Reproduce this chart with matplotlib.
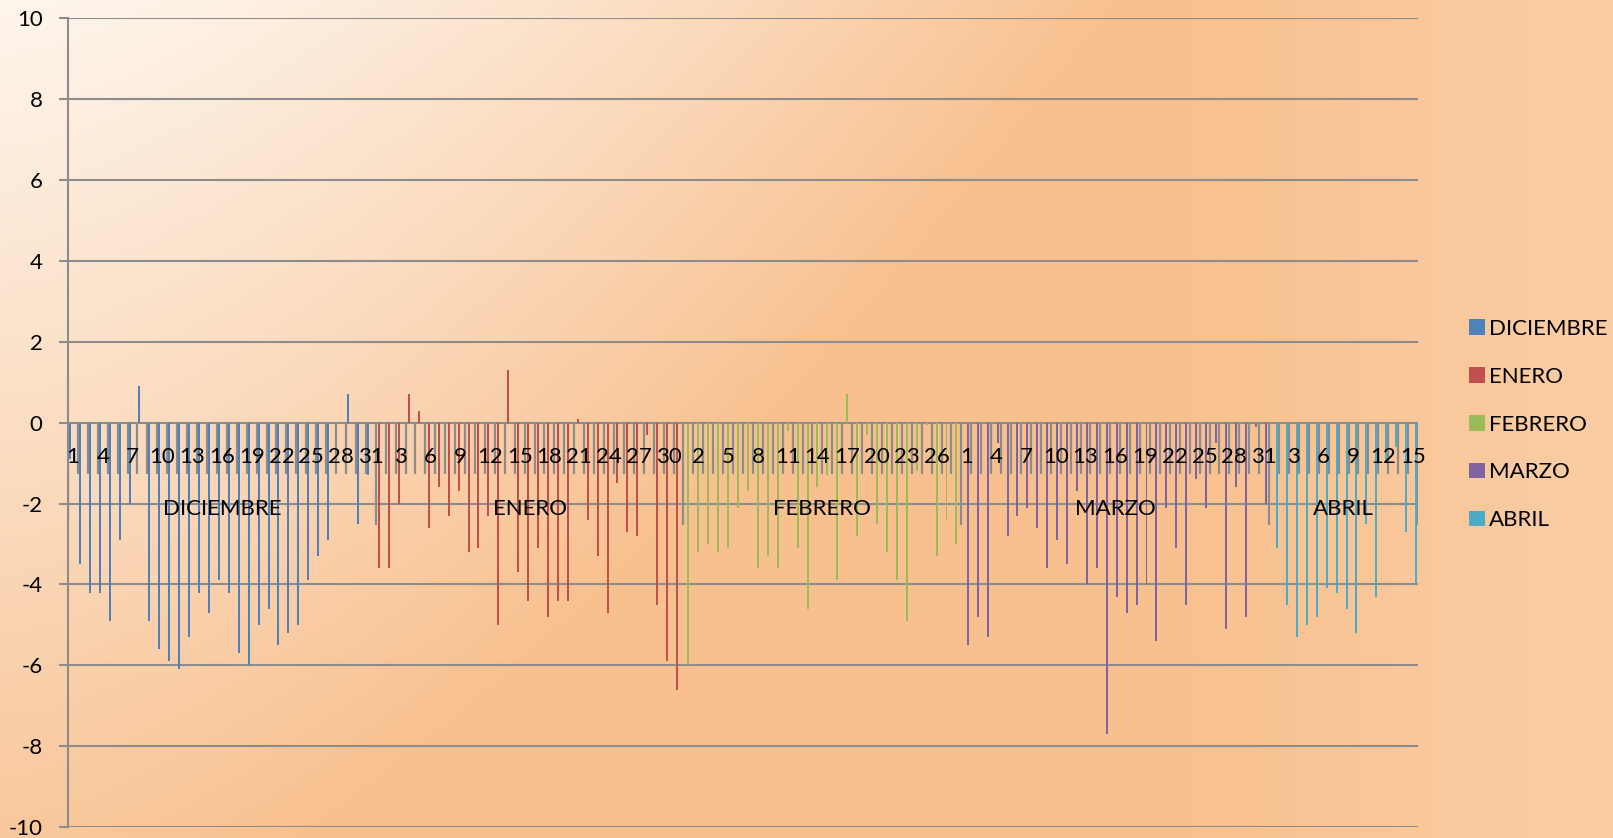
# import libraries
import numpy as np
import matplotlib
matplotlib.use('Agg')
import matplotlib.pyplot as plt

plt.rcParams['font.family'] = ['Lato', 'DejaVu Sans']
plt.rcParams['axes.unicode_minus'] = False

# data, one list per month (one value per day)
months = ['DICIEMBRE', 'ENERO', 'FEBRERO', 'MARZO', 'ABRIL']
colors = ['#4F81BD', '#C0504D', '#9BBB59', '#8064A2', '#4BACC6']

dic = [-0.9, -3.5, -4.2, -4.2, -4.9, -2.9, -2.0, 0.9, -4.9, -5.6, -5.9, -6.1, -5.3, -4.2, -4.7, -3.9,
       -4.2, -5.7, -6.0, -5.0, -4.6, -5.5, -5.2, -5.0, -3.9, -3.3, -2.9, 0.0, 0.7, -2.5, -1.3]
ene = [-3.6, -3.6, -2.0, 0.7, 0.3, -2.6, -1.6, -2.3, -1.7, -3.2, -3.1, -2.3, -5.0, 1.3, -3.7, -4.4,
       -3.1, -4.8, -4.4, -4.4, 0.1, -2.4, -3.3, -4.7, -1.5, -2.7, -2.8, -0.3, -4.5, -5.9, -6.6]
feb = [-6.0, -3.2, -3.0, -3.2, -3.1, -2.1, -1.7, -3.6, -3.3, -3.6, -0.2, -3.1, -4.6, -1.6, -1.3, -3.9,
       0.7, -2.8, -0.3, -2.5, -3.2, -3.9, -4.9, -1.2, -0.05, -3.3, -2.4, -3.0]
mar = [-5.5, -4.8, -5.3, -0.5, -2.8, -2.3, -2.1, -2.6, -3.6, -2.9, -3.5, -1.7, -4.0, -3.6, -7.7, -4.3,
       -4.7, -4.5, -4.0, -5.4, -2.1, -3.1, -4.5, -1.4, -2.1, -0.5, -5.1, -1.6, -4.8, -0.1, -2.0]
abr = [-3.1, -4.5, -5.3, -5.0, -4.8, -4.1, -4.2, -4.6, -5.2, -2.5, -4.3, -1.0, -0.6, -2.7, -4.0]

series = [dic, ene, feb, mar, abr]

# day numbers for the category axis
days = []
for s in series:
    days += list(range(1, len(s) + 1))
n = len(days)

fig = plt.figure(figsize=(16.13, 8.38), dpi=100)

# background gradient
xx, yy = np.meshgrid(np.linspace(0, 1, 400), np.linspace(0, 1, 220))
t = np.clip((xx / 0.7) ** 1.5 + yy * 0.85, 0, 1)
light = np.array([254, 245, 236]) / 255
orange = np.array([248, 192, 142]) / 255
right = np.array([251, 210, 172]) / 255
img = light * (1 - t)[..., None] + orange * t[..., None]
w = (np.clip((xx - 0.72) / 0.28, 0, 1) * 0.75)[..., None]
img = img * (1 - w) + right * w
bg = fig.add_axes([0, 0, 1, 1], zorder=-10)
bg.imshow(img, aspect='auto', extent=[0, 1, 0, 1], origin='upper')
bg.axis('off')

ax = fig.add_axes([68 / 1613, 1 - 827 / 838, (1418 - 68) / 1613, (827 - 18.5) / 838])
ax.set_facecolor('none')

grey = '#8c8c8c'

# bars, clustered by month inside each day slot
offsets = [-0.298, -0.149, 0.0, 0.149, 0.298]
start = 0
bounds = [0]
for i in range(len(series)):
    vals = series[i]
    xs = np.arange(start, start + len(vals)) + offsets[i]
    ax.bar(xs, vals, width=0.2, color=colors[i], label=months[i], zorder=3)
    start += len(vals)
    bounds.append(start)

# category tick marks (short per day, long per month)
for k in range(n + 1):
    low = -2.54 if k in bounds else -1.27
    ax.plot([k - 0.5, k - 0.5], [0, low], color=grey, lw=1.6, zorder=2, solid_capstyle='butt')

# day labels every 3 days
for k in range(0, n, 3):
    ax.text(k, -0.84, str(days[k]), ha='center', va='center', fontsize=16, zorder=4)

# month labels
for i in range(len(months)):
    mid = (bounds[i] + bounds[i + 1] - 1) / 2
    ax.text(mid, -2.13, months[i], ha='center', va='center', fontsize=16, zorder=4)

ax.set_xlim(-0.5, n - 0.5)
ax.set_ylim(-10, 10)
ax.set_yticks(range(-10, 11, 2))
ax.set_xticks([])
ax.yaxis.grid(True, color=grey, lw=1.5)
ax.set_axisbelow(True)
ax.tick_params(axis='y', length=6.3, width=1.5, color=grey, pad=12, labelsize=16)
for side in ['top', 'right', 'bottom']:
    ax.spines[side].set_visible(False)
ax.spines['left'].set_color(grey)
ax.spines['left'].set_linewidth(1.5)

ax.legend(loc='upper left', bbox_to_anchor=(1469 / 1613, 1 - 319 / 838), bbox_transform=fig.transFigure,
          frameon=False, fontsize=16, handlelength=0.7, handleheight=0.7, handletextpad=0.2,
          labelspacing=1.25, borderpad=0, borderaxespad=0)

plt.savefig('out.png', dpi=100)
